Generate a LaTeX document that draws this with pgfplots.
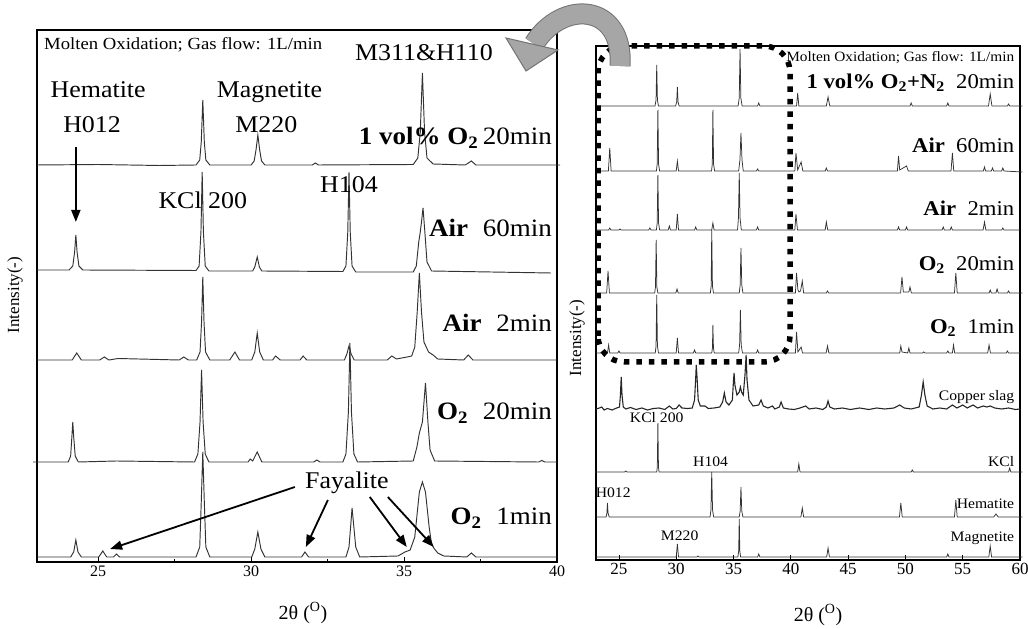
\documentclass[border=0pt]{standalone}
\usepackage{pgfplots}
\pgfplotsset{compat=1.18}
\usepackage{fontspec}
\setmainfont{Liberation Serif}
\usetikzlibrary{arrows.meta}
\newcommand{\sx}[1]{\scalebox{1.08}[1]{#1}}
\newcommand{\fs}[1]{\fontsize{#1}{#1}\selectfont}
\pgfplotsset{
  xrdaxis/.style={
    scale only axis, clip=false,
    axis line style={line width=1.1pt},
    ytick=\empty,
    xtick pos=bottom,
    tick align=inside,
    major tick length=5pt, minor tick length=3pt,
    tick style={line width=0.8pt, black},
    ticklabel style={font=\fs{16}},
    /pgf/number format/assume math mode=true,
    ymin=0,
  },
  trL/.style={line width=0.95pt, black!80, no markers},
  trR/.style={line width=0.75pt, black!80, no markers},
}
\begin{document}
\begin{tikzpicture}[x=1pt,y=1pt]
\useasboundingbox (0,0) rectangle (1028,629);
% ---------------- LEFT PANEL ----------------
\begin{axis}[xrdaxis, at={(37pt,67pt)}, anchor=south west,
  width=520pt, height=532pt, xmin=23, xmax=40, ymax=532,
  xtick={25,30,35,40}, minor xtick={27.5,32.5,37.5}]
% 1 vol% O2 20min
\addplot[trL] coordinates {(23,397) (25,397.5) (27,396.5) (28.2,397) (28.32,402) (28.37,420) (28.42,462) (28.47,420) (28.52,402) (28.65,397) (30.0,397) (30.1,401) (30.16,412) (30.22,427) (30.28,412) (30.34,401) (30.45,397) (32.0,397) (32.1,399) (32.2,397) (35.3,397.5) (35.45,404) (35.53,430) (35.6,489) (35.67,430) (35.75,404) (35.95,398) (37.0,397) (37.2,401) (37.35,397) (40.1,397)};
% Air 60min
\addplot[trL] coordinates {(23,292) (24.05,292) (24.17,296) (24.23,310) (24.27,327) (24.31,310) (24.37,296) (24.5,292) (28.2,291.5) (28.3,296) (28.36,330) (28.4,390) (28.44,330) (28.5,296) (28.62,291) (30.05,291) (30.12,295) (30.2,305) (30.27,295) (30.35,291) (33.0,290.5) (33.1,296) (33.16,330) (33.2,390) (33.24,330) (33.3,296) (33.42,290) (35.3,290) (35.4,296) (35.48,320) (35.53,330) (35.57,340) (35.62,354) (35.68,330) (35.75,300) (35.9,291) (39.8,289)};
% Air 2min
\addplot[trL] coordinates {(23,202) (24.15,202) (24.3,209) (24.45,202) (25.05,202) (25.2,205) (25.35,202) (25.65,203.5) (27.65,202) (27.8,205) (27.95,202) (28.22,202) (28.33,210) (28.38,240) (28.42,285) (28.46,240) (28.51,210) (28.65,202) (29.3,202) (29.47,210) (29.62,202) (30.02,202) (30.12,210) (30.2,229) (30.28,210) (30.4,202) (30.7,202) (30.8,206) (30.95,202) (31.6,202) (31.7,206) (31.82,202) (33.05,202) (33.13,208) (33.2,216) (33.27,208) (33.37,202) (34.45,202) (34.6,206) (34.75,203) (35.1,205) (35.25,206) (35.35,215) (35.43,250) (35.5,289) (35.57,250) (35.65,220) (35.8,210) (35.95,207) (36.1,203) (36.95,202) (37.1,207) (37.25,202) (40,202)};
% O2 20min
\addplot[trL] coordinates {(22.87,100) (24.02,100) (24.1,106) (24.14,125) (24.17,140) (24.2,125) (24.25,106) (24.35,100) (25.6,101) (28.15,100) (28.26,108) (28.33,140) (28.38,192) (28.43,140) (28.5,108) (28.62,100) (29.9,100) (29.97,103) (30.05,101) (30.2,110) (30.35,100) (32.05,100) (32.15,102) (32.25,100) (33.0,100) (33.1,108) (33.18,150) (33.23,219) (33.28,150) (33.36,108) (33.48,100) (35.3,101) (35.42,115) (35.5,129) (35.6,140) (35.7,179) (35.78,140) (35.85,112) (36.0,101) (39.4,100) (39.5,101.5) (39.6,100) (40,100)};
% O2 1min
\addplot[trL] coordinates {(23,5) (24.1,5) (24.2,10) (24.27,22) (24.34,10) (24.45,5) (25.02,5) (25.15,11) (25.28,5) (25.5,5) (25.6,8) (25.7,5) (28.2,5) (28.32,15) (28.37,60) (28.42,110) (28.47,60) (28.52,15) (28.65,5) (30.02,5) (30.12,13) (30.22,30) (30.32,13) (30.45,5) (31.65,5) (31.76,10) (31.88,5) (33.1,5) (33.2,15) (33.26,38) (33.3,54) (33.35,38) (33.42,15) (33.55,5) (34.8,6) (35.03,10) (35.2,12) (35.35,25) (35.5,70) (35.6,80) (35.7,70) (35.82,35) (35.9,18) (35.97,14) (36.1,9) (36.3,6) (37.05,5) (37.2,9) (37.35,5) (40,5)};
% labels
\node[anchor=west, font=\fs{17}] at (axis cs:23.12,517) {\scalebox{1.1}[1]{Molten Oxidation; Gas flow: 1L/min}};
\node[font=\fs{24}] at (axis cs:35.65,509) {\sx{M311\&H110}};
\node[font=\fs{24}] at (axis cs:25.0,472) {\sx{Hematite}};
\node[font=\fs{24}] at (axis cs:24.8,437) {\sx{H012}};
\node[font=\fs{24}] at (axis cs:30.6,470) {\sx{Magnetite}};
\node[font=\fs{24}] at (axis cs:30.5,437) {\sx{M220}};
\node[font=\fs{24}] at (axis cs:28.42,362) {\sx{KCl 200}};
\node[font=\fs{24}] at (axis cs:33.2,377) {\sx{H104}};
\node[font=\fs{24}] at (axis cs:33.13,79) {\sx{Fayalite}};
\node[anchor=east, font=\fs{25}] at (axis cs:39.95,424) {\sx{{\bfseries 1 vol\% O\textsubscript{2}}\,20min}};
\node[anchor=east, font=\fs{25}] at (axis cs:39.95,334) {\sx{{\bfseries Air}\hspace{0.55em}60min}};
\node[anchor=east, font=\fs{25}] at (axis cs:39.95,239) {\sx{{\bfseries Air}\hspace{0.55em}2min}};
\node[anchor=east, font=\fs{25}] at (axis cs:39.95,149) {\sx{{\bfseries O\textsubscript{2}}\hspace{0.55em}20min}};
\node[anchor=east, font=\fs{25}] at (axis cs:39.95,44) {\sx{{\bfseries O\textsubscript{2}}\hspace{0.55em}1min}};
% arrows
\draw[-{Triangle[length=12pt,width=9pt]}, line width=1.8pt] (axis cs:24.27,415) -- (axis cs:24.27,340);
\draw[-{Triangle[length=12pt,width=9pt]}, line width=1.8pt] (axis cs:31.43,75) -- (axis cs:25.39,13);
\draw[-{Triangle[length=12pt,width=9pt]}, line width=1.8pt] (axis cs:32.51,62) -- (axis cs:31.79,15);
\draw[-{Triangle[length=12pt,width=9pt]}, line width=1.8pt] (axis cs:33.88,65) -- (axis cs:35.09,15);
\draw[-{Triangle[length=12pt,width=9pt]}, line width=1.8pt] (axis cs:34.47,65) -- (axis cs:35.97,15);
\end{axis}
% ---------------- RIGHT PANEL ----------------
\begin{axis}[xrdaxis, at={(596pt,69pt)}, anchor=south west,
  width=424pt, height=514pt, xmin=23, xmax=60, ymax=514,
  xtick={25,30,...,60}, ticklabel style={font=\fs{17}}]
% 1 vol% O2+N2 20min
\addplot[trR] coordinates {(23,454) (28.15,454) (28.24,460) (28.3,495) (28.36,460) (28.45,454) (29.95,454) (30.04,458) (30.1,473) (30.16,458) (30.25,454) (35.4,454) (35.5,462) (35.57,511) (35.64,462) (35.75,454) (37.1,454) (37.2,457) (37.3,454) (40.5,454) (40.6,467) (40.7,454) (43.1,454) (43.25,463) (43.4,454) (50.4,454) (50.5,457) (50.6,454) (53.6,454) (53.7,457) (53.8,454) (57.25,454) (57.4,466) (57.55,454) (58.9,454) (59,456) (59.1,454) (60.2,454)};
% Air 60min
\addplot[trR] coordinates {(23,389) (24.08,389) (24.2,412) (24.32,389) (28.27,389) (28.34,396) (28.4,450) (28.46,396) (28.55,389) (30.0,389) (30.1,399) (30.2,389) (33.08,389) (33.15,396) (33.2,450) (33.26,396) (33.35,389) (35.45,389) (35.56,400) (35.65,427) (35.74,400) (35.85,389) (37,389) (37.1,391) (37.2,389) (40.35,389) (40.45,407) (40.6,390) (40.9,398) (41.05,389) (43,389) (43.1,392) (43.2,389) (49.3,389) (49.4,404) (49.5,390) (50.1,394) (50.25,389) (53.98,389) (54.1,407) (54.22,389) (56.8,389) (56.9,393) (57.0,389) (57.5,389) (57.6,392) (57.7,389) (58.4,389) (58.5,392) (58.6,389) (60.2,388)};
% Air 2min
\addplot[trR] coordinates {(23,330) (24.1,330) (24.2,332) (24.3,330) (25,330) (25.1,331) (25.2,330) (27.6,330) (27.7,332) (27.8,330) (28.27,330) (28.34,337) (28.4,385) (28.46,337) (28.55,330) (29.3,330) (29.4,334) (29.5,330) (30,330) (30.1,346) (30.2,330) (31.6,330) (31.7,333) (31.8,330) (33.1,330) (33.2,337) (33.3,330) (35.35,330) (35.43,342) (35.5,387) (35.57,342) (35.68,330) (37,330) (37.1,333) (37.2,330) (40.35,330) (40.45,346) (40.58,330) (43,330) (43.1,338) (43.22,330) (49.3,330) (49.4,333) (49.5,330) (50,330) (50.1,333) (50.2,330) (53.2,330) (53.3,333) (53.4,330) (53.9,330) (54,333) (54.1,330) (56.78,330) (56.9,338) (57.02,330) (58.4,330) (58.5,332) (58.6,330) (60,330)};
% O2 20min
\addplot[trR] coordinates {(23,267) (23.93,267) (24.05,289) (24.17,267) (28.12,267) (28.19,273) (28.25,320) (28.31,273) (28.4,267) (29.97,267) (30.07,271) (30.17,267) (32.98,267) (33.05,274) (33.1,330) (33.16,274) (33.25,267) (35.5,267) (35.58,275) (35.65,312) (35.72,275) (35.82,267) (40.4,267) (40.5,287) (40.62,270) (40.72,268) (40.85,269) (41.0,279) (41.12,267) (43.1,267) (43.2,269) (43.3,267) (49.58,267) (49.7,283) (49.82,268) (50.3,268) (50.4,273) (50.52,267) (54.28,267) (54.4,287) (54.52,267) (57.3,267) (57.4,270) (57.5,267) (57.9,267) (58.0,271) (58.1,267) (58.9,267) (59,269) (59.1,267) (60.2,267)};
% O2 1min
\addplot[trR] coordinates {(23,207) (24,207) (24.1,215) (24.2,207) (24.9,207) (25,209) (25.1,207) (28.17,207) (28.24,214) (28.3,265) (28.36,214) (28.45,207) (30,207) (30.1,222) (30.2,207) (31.5,207) (31.6,210) (31.7,207) (33.1,207) (33.16,212) (33.2,235) (33.25,212) (33.32,207) (35.45,207) (35.53,215) (35.6,250) (35.67,215) (35.78,207) (37,207) (37.1,210) (37.2,207) (40.4,207) (40.5,228) (40.62,208) (40.9,213) (41.02,207) (43.08,207) (43.2,214) (43.32,207) (49.5,207) (49.6,214) (49.7,208) (50.2,207) (50.3,212) (50.4,207) (51.5,207) (51.6,208) (51.7,207) (53.6,207) (53.7,209) (53.8,207) (54.1,207) (54.2,215) (54.3,207) (57.18,207) (57.3,215) (57.42,207) (58.8,207) (58.9,209) (59,207) (60,207)};
% Copper slag
\addplot[line width=1.1pt, black!85, no markers] coordinates {(23,151) (23.3,152) (23.5,153) (23.7,150) (24.0,151.5) (24.4,150) (24.8,152) (25.05,153) (25.13,165) (25.2,183) (25.27,165) (25.38,153) (25.6,151) (26.0,152.5) (26.5,150.5) (27.0,152) (27.5,150) (28.0,151.5) (28.5,152) (29.0,150.5) (29.4,154) (29.7,151) (30.0,151.5) (30.25,155) (30.5,152) (31.0,151.5) (31.4,152) (31.6,160) (31.7,182) (31.75,195) (31.82,182) (31.92,160) (32.1,154) (32.5,154) (32.8,151.5) (33.3,152) (33.8,153) (34.05,158) (34.2,167) (34.35,158) (34.6,155) (34.9,160) (35.0,180) (35.05,187) (35.12,175) (35.3,165) (35.5,168) (35.6,173) (35.7,168) (35.85,165) (36.0,185) (36.1,205) (36.18,180) (36.35,160) (36.7,154) (37.2,155) (37.4,160) (37.6,154) (38.0,152) (38.4,154) (38.6,151) (39.0,153) (39.15,158) (39.35,152) (39.8,151) (40.3,150.5) (40.8,152) (41.3,154) (41.6,151) (42.2,152) (42.8,150.5) (43.1,153) (43.25,159) (43.4,153) (43.8,151) (44.5,152) (45.2,150.5) (46,152) (46.8,150.5) (47.5,152) (48.2,151) (49,152) (49.5,155) (49.9,152) (50.5,151) (51.2,153) (51.4,165) (51.55,178) (51.7,165) (51.9,154) (52.4,151) (53,152) (53.6,151) (54.1,155) (54.5,152) (55,155) (55.4,152) (55.9,155) (56.3,152) (56.8,154) (57.1,153) (57.4,154) (57.8,152) (58.4,151) (59,152) (59.6,150.5) (60,151)};
% KCl
\addplot[trR] coordinates {(22.9,88) (25.5,88) (25.6,89) (25.7,88) (28.3,88) (28.35,93) (28.4,137) (28.45,93) (28.5,88) (40.6,88) (40.7,96) (40.8,88) (50.5,88) (50.6,90) (50.7,88) (59.0,88) (59.1,92) (59.2,88) (60.2,88)};
% Hematite
\addplot[trR] coordinates {(23,43) (23.88,43) (23.95,47) (24.0,57) (24.05,47) (24.15,43) (32.95,43) (33.03,50) (33.1,88) (33.17,50) (33.27,43) (35.5,43) (35.58,49) (35.65,73) (35.72,49) (35.82,43) (40.88,43) (41.0,52) (41.12,43) (49.48,43) (49.6,57) (49.72,43) (54.28,43) (54.4,60) (54.52,43) (57.7,43) (57.9,46) (58.1,43) (60.2,43)};
% Magnetite
\addplot[trR] coordinates {(23,3) (30.0,3) (30.1,16) (30.2,3) (31.8,3) (31.9,4) (32.0,3) (35.38,3) (35.45,9) (35.5,41) (35.55,9) (35.62,3) (37.1,3) (37.2,6) (37.3,3) (43.13,3) (43.25,12) (43.37,3) (53.6,3) (53.7,6) (53.8,3) (57.28,3) (57.4,14) (57.52,3) (60.2,3)};
% labels
\node[anchor=east, font=\fs{14.2}] at (axis cs:59.8,502) {\sx{Molten Oxidation; Gas flow: 1L/min}};
\node[anchor=east, font=\fs{21}] at (axis cs:59.8,477) {\sx{{\bfseries 1 vol\% O\textsubscript{2}+N\textsubscript{2}}\hspace{0.5em}20min}};
\node[anchor=east, font=\fs{21}] at (axis cs:59.8,415) {\sx{{\bfseries Air}\hspace{0.5em}60min}};
\node[anchor=east, font=\fs{21}] at (axis cs:59.8,352) {\sx{{\bfseries Air}\hspace{0.5em}2min}};
\node[anchor=east, font=\fs{21}] at (axis cs:59.8,295) {\sx{{\bfseries O\textsubscript{2}}\hspace{0.5em}20min}};
\node[anchor=east, font=\fs{21}] at (axis cs:59.8,232) {\sx{{\bfseries O\textsubscript{2}}\hspace{0.5em}1min}};
\node[anchor=east, font=\fs{14.5}] at (axis cs:59.8,163) {\sx{Copper slag}};
\node[font=\fs{14.5}] at (axis cs:28.3,142) {\sx{KCl 200}};
\node[font=\fs{14.5}] at (axis cs:33.0,98) {\sx{H104}};
\node[anchor=east, font=\fs{14.5}] at (axis cs:59.8,98) {\sx{KCl}};
\node[font=\fs{14.5}] at (axis cs:24.5,67) {\sx{H012}};
\node[anchor=east, font=\fs{14.5}] at (axis cs:59.8,56) {\sx{Hematite}};
\node[font=\fs{14.5}] at (axis cs:30.3,24) {\sx{M220}};
\node[anchor=east, font=\fs{14.5}] at (axis cs:59.8,22) {\sx{Magnetite}};
\end{axis}
% axis titles
\node[rotate=90, font=\fs{17}] at (15,334) {Intensity(-)};
\node[rotate=90, font=\fs{17}] at (577,291) {Intensity(-)};
\node[font=\fs{20}] at (303,16) {2θ (\textsuperscript{O})};
\node[font=\fs{20}] at (818,14) {2θ (\textsuperscript{O})};
% dotted highlight
\draw[line width=5.5pt, dash pattern=on 5.5pt off 7pt, rounded corners=26pt] (598,267) rectangle (790,583);
% curved arrow
\draw[line width=1pt, draw=black!55, double=gray!70, double distance=19pt] (620,563) .. controls (624,626) and (562,630) .. (534,585);
\filldraw[fill=gray!70, draw=black!55, line width=1pt] (506,591) -- (558,579) -- (526,558) -- cycle;
\end{tikzpicture}
\end{document}
